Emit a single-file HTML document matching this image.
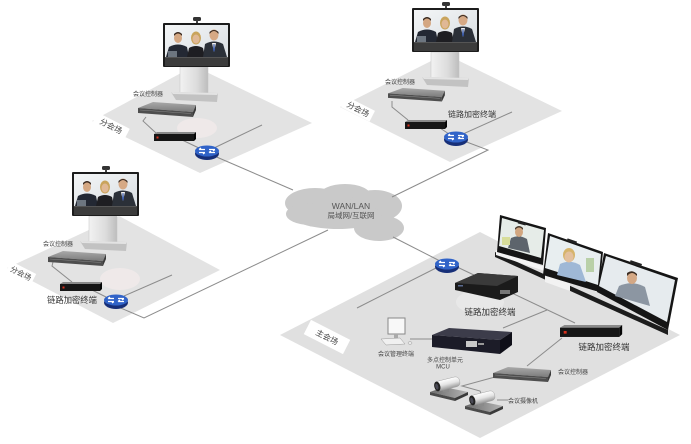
<!DOCTYPE html>
<html><head><meta charset="utf-8"><style>
html,body{margin:0;padding:0;background:#fff;}
svg{display:block;}
text{font-family:"Liberation Sans","Noto Sans CJK SC",sans-serif;}
</style></head><body>
<svg width="691" height="444" viewBox="0 0 691 444" xmlns="http://www.w3.org/2000/svg">
<defs>
  <linearGradient id="col" x1="0" y1="0" x2="1" y2="0">
    <stop offset="0" stop-color="#f2f2f2"/><stop offset="0.6" stop-color="#dcdcdc"/><stop offset="1" stop-color="#bdbdbd"/>
  </linearGradient>
  <linearGradient id="scr" x1="0" y1="0" x2="1" y2="1">
    <stop offset="0" stop-color="#f4f6f7"/><stop offset="1" stop-color="#d9dee2"/>
  </linearGradient>
  <linearGradient id="metal" x1="0" y1="0" x2="0" y2="1">
    <stop offset="0" stop-color="#a9a9a9"/><stop offset="1" stop-color="#7c7c7c"/>
  </linearGradient>
  <linearGradient id="camh" x1="0" y1="0" x2="0" y2="1">
    <stop offset="0" stop-color="#ffffff"/><stop offset="0.5" stop-color="#e4e4e4"/><stop offset="1" stop-color="#9a9a9a"/>
  </linearGradient>
  <linearGradient id="camb" x1="0" y1="0" x2="1" y2="0">
    <stop offset="0" stop-color="#6a6a6a"/><stop offset="1" stop-color="#b5b5b5"/>
  </linearGradient>
  <g id="tv">
    <rect x="30" y="-6" width="8" height="4" rx="1.5" fill="#333"/>
    <rect x="33" y="-2.5" width="2" height="3" fill="#444"/>
    <rect x="0" y="0" width="67" height="44" rx="1" fill="#1c1c1c"/>
    <rect x="2" y="2" width="63" height="32" fill="url(#scr)"/>
    <path d="M3 34 L6 24 Q15 19 24 24 L26 34 Z" fill="#232833"/>
    <ellipse cx="15" cy="15" rx="4" ry="5" fill="#d4a782"/>
    <path d="M11 13 Q15 8 19 13 L19 11 Q15 7 11 11 Z" fill="#3a2a20"/>
    <rect x="5" y="28" width="9" height="6" fill="#6d7680"/>
    <ellipse cx="33" cy="15" rx="5" ry="6.5" fill="#c9a45c"/>
    <path d="M24 34 L26 25 Q33 21 40 25 L42 34 Z" fill="#1e1e22"/>
    <ellipse cx="33" cy="16" rx="3.5" ry="4.5" fill="#e0b895"/>
    <path d="M40 34 L42 21 Q51 16 60 21 L64 34 Z" fill="#2b3038"/>
    <path d="M49 20 L53 20 L51 29 Z" fill="#f2f2f2"/>
    <path d="M50.5 21 L51.5 21 L52 27 L51 29 L50 27 Z" fill="#3a5aa8"/>
    <ellipse cx="51" cy="12" rx="4.5" ry="5.5" fill="#d6a985"/>
    <path d="M46.5 11 Q51 5 55.5 11 L55.5 9 Q51 5 46.5 9 Z" fill="#3b2c22"/>
    <rect x="2" y="34" width="63" height="9" fill="#3c3c3c"/>
    <rect x="2" y="34" width="63" height="1" fill="#555"/>
  </g>
  <g id="stand">
    <rect x="0" y="0" width="28" height="27" fill="url(#col)"/>
    <rect x="0" y="0" width="28" height="27" fill="none" stroke="#c4c4c4" stroke-width="0.5"/>
    <path d="M-9 25 L38 26 L37 35 L-4 33 Z" fill="#c2c2c2"/>
    <path d="M-9 25 L38 26 L37 28 L-7 27 Z" fill="#e3e3e3"/>
  </g>
  <g id="ctrl">
    <path d="M0 6 L15 0 L58 3 L55 10 Z" fill="url(#metal)"/>
    <path d="M0 6 L55 10 L55 15 L0 11 Z" fill="#4e4e4e"/>
    <path d="M55 10 L58 3 L58 8 L55 15 Z" fill="#3a3a3a"/>
    <path d="M2 8 L53 11.5" stroke="#888" stroke-width="0.6"/>
  </g>
  <g id="enc">
    <path d="M0 2 L3 0 L42 0 L40 2 Z" fill="#8a8a8a"/>
    <rect x="0" y="2" width="40" height="7" fill="#161616"/>
    <path d="M40 2 L42 0 L42 7 L40 9 Z" fill="#050505"/>
    <rect x="2.5" y="4.5" width="2" height="2" fill="#d8301c"/>
  </g>
  <g id="router">
    <ellipse cx="0" cy="2.5" rx="12" ry="6.5" fill="#172f78"/>
    <ellipse cx="0" cy="0" rx="12" ry="5.5" fill="#3063c8"/>
    <path d="M-8 -1.5 H-2 M-8 -1.5 L-6 -3 M2 -1.5 H8 M8 -1.5 L6 0 M-8 1.5 H-2 M-2 1.5 L-4 3 M2 1.5 H8 M2 1.5 L4 -0" stroke="#fff" stroke-width="1.3" fill="none"/>
  </g>
  <g id="cam">
    <polygon points="0,12 14,7 38,12 25,18" fill="url(#camb)"/>
    <polygon points="0,12 25,18 25,21 0,15" fill="#4a4a4a"/>
    <polygon points="25,18 38,12 38,15 25,21" fill="#3a3a3a"/>
    <rect x="13" y="6" width="6" height="6" fill="#8a8a8a"/>
    <g transform="rotate(-14 17 4)">
      <rect x="6" y="-1" width="24" height="10" rx="4" fill="url(#camh)" stroke="#9a9a9a" stroke-width="0.4"/>
      <ellipse cx="7" cy="4" rx="3" ry="5" fill="#222"/>
      <ellipse cx="6.5" cy="4" rx="1.5" ry="3" fill="#4a4a55"/>
    </g>
  </g>
</defs>

<!-- planes -->
<polygon points="92,121 194,66 312,123 200,173" fill="#e3e3e3"/>
<polygon points="340,107 445,54 562,111 450,162" fill="#e3e3e3"/>
<polygon points="7,268 119,216 220,270 113,323" fill="#e3e3e3"/>
<polygon points="280,335 480,232 680,335 480,438" fill="#e0e0e0"/>

<!-- glows -->
<ellipse cx="197" cy="128" rx="20" ry="10" fill="#efe9e9"/>
<ellipse cx="120" cy="279" rx="20" ry="11" fill="#efe9e9"/>
<ellipse cx="480" cy="302" rx="24" ry="12" fill="#e8e8e8"/>

<!-- cloud -->
<g fill="#c9c9c9">
  <ellipse cx="315" cy="203" rx="30" ry="15"/>
  <ellipse cx="345" cy="196" rx="26" ry="12"/>
  <ellipse cx="375" cy="206" rx="27" ry="16"/>
  <ellipse cx="338" cy="216" rx="45" ry="13"/>
  <ellipse cx="379" cy="228" rx="25" ry="13"/>
  <ellipse cx="310" cy="214" rx="24" ry="11"/>
</g>
<text x="351" y="209" font-size="8.5" fill="#555" text-anchor="middle">WAN/LAN</text>
<text x="351" y="218" font-size="7.5" fill="#555" text-anchor="middle">局域网/互联网</text>

<!-- lines -->
<g stroke="#8c8c8c" stroke-width="1" fill="none">
  <path d="M146 117 L143 121 L156 133"/>
  <path d="M180 139 L201 149"/>
  <path d="M214 148 L262 125"/>
  <path d="M212 155 L293 190"/>
  <path d="M392 101 L392 107 L408 120"/>
  <path d="M437 126 L449 134"/>
  <path d="M463 134 L512 112"/>
  <path d="M464 141 L488 150 L392 197"/>
  <path d="M53 262 L52 266 L72 282"/>
  <path d="M90 289 L106 297"/>
  <path d="M124 296 L172 275"/>
  <path d="M116 306 L144 318 L328 230"/>
  <path d="M393 237 L440 261"/>
  <path d="M440 266 L357 308"/>
  <path d="M455 266 L575 323"/>
  <path d="M547 310 L503 328"/>
  <path d="M562 338 L527 366"/>
  <path d="M495 377 L462 386 L480 391 L482 396"/>
  <path d="M497 400 L508 400"/>
  <path d="M410 339 L432 339"/>
</g>

<!-- plane 1 -->
<use href="#stand" x="180" y="67"/>
<use href="#tv" x="163" y="23"/>
<text x="148" y="96" font-size="6" fill="#444" text-anchor="middle">会议控制器</text>
<use href="#ctrl" x="138" y="102"/>
<use href="#enc" x="154" y="132"/>
<use href="#router" x="207" y="151"/>
<g transform="rotate(27 111 126)">
  <rect x="93" y="120" width="36" height="12" fill="#fff"/>
  <text x="111" y="129" font-size="8" fill="#444" text-anchor="middle">分会场</text>
</g>

<!-- plane 2 -->
<use href="#stand" x="431" y="52"/>
<use href="#tv" x="412" y="8"/>
<text x="400" y="84" font-size="6" fill="#444" text-anchor="middle">会议控制器</text>
<use href="#ctrl" x="388" y="88" transform="translate(388 88) scale(0.98 0.9) translate(-388 -88)"/>
<use href="#enc" x="405" y="120"/>
<text x="472" y="117" font-size="8" fill="#333" text-anchor="middle">链路加密终端</text>
<use href="#router" x="456" y="137"/>
<g transform="rotate(27 358 109)">
  <rect x="342" y="103" width="32" height="12" fill="#fff"/>
  <text x="358" y="112" font-size="8" fill="#444" text-anchor="middle">分会场</text>
</g>

<!-- plane 3 -->
<use href="#stand" x="89" y="216"/>
<use href="#tv" x="72" y="172"/>
<text x="58" y="246" font-size="6" fill="#444" text-anchor="middle">会议控制器</text>
<use href="#ctrl" x="48" y="251"/>
<use href="#enc" x="60" y="282"/>
<text x="72" y="303" font-size="8.3" fill="#333" text-anchor="middle">链路加密终端</text>
<use href="#router" x="116" y="300"/>
<g transform="rotate(27 21 273)">
  <rect x="7" y="267" width="28" height="11" fill="#fff"/>
  <text x="21" y="276" font-size="7.5" fill="#444" text-anchor="middle">分会场</text>
</g>

<!-- main plane -->
<g transform="rotate(27 327 337)">
  <rect x="305" y="329" width="44" height="16" fill="#fff"/>
  <text x="327" y="340" font-size="8" fill="#444" text-anchor="middle">主会场</text>
</g>

<!-- tri-screen -->
<polygon points="495,252 668,330 668,335 495,257" fill="#1c1c1c"/>
<polygon points="496,250 548,268 548,272 496,255" fill="#f4f4f4"/>
<polygon points="545,270 570,280 570,291 545,282" fill="#f2f2f2"/>
<polygon points="500,215 546,228 543,265 497,252" fill="#151515"/>
<polygon points="502,218 544,230 541,258 499,246" fill="#e6ece8"/>
<polygon points="548,233 603,252 599,292 543,275" fill="#151515"/>
<polygon points="550,236 601,254 598,285 545,268" fill="#e8eef0"/>
<polygon points="604,253 678,278 668,330 597,292" fill="#151515"/>
<polygon points="606,256 675,280 667,322 599,286" fill="#e6ebee"/>
<!-- people in tri-screen -->
<path d="M508 248 L511 238 Q519 234 527 239 L530 253 Z" fill="#5d646c"/>
<ellipse cx="519" cy="232" rx="4" ry="5" fill="#d2a680"/>
<path d="M515 230 Q519 225 523 230 L523 228 Q519 224 515 228 Z" fill="#4a3a2c"/>
<rect x="502" y="237" width="8" height="8" fill="#d7dd9a"/>
<path d="M557 275 L560 264 Q570 259 580 265 L586 282 Z" fill="#9fb8d6"/>
<ellipse cx="569" cy="255" rx="6" ry="7" fill="#d6b46c"/>
<ellipse cx="569" cy="257" rx="4.5" ry="5.5" fill="#e3c09e"/>
<rect x="586" y="258" width="8" height="14" fill="#b9d0a8"/>
<path d="M615 296 L619 286 Q632 280 645 287 L650 306 Z" fill="#8c96a2"/>
<ellipse cx="632" cy="278" rx="5" ry="6" fill="#d4a885"/>
<path d="M627 276 Q632 270 637 276 L637 274 Q632 269 627 273 Z" fill="#3b2c22"/>
<rect x="518" y="222" width="8" height="2.5" fill="#222" transform="rotate(16 522 223)"/>
<rect x="567" y="240" width="10" height="2.5" fill="#222" transform="rotate(19 572 241)"/>
<rect x="630" y="262" width="12" height="3" fill="#222" transform="rotate(19 636 263)"/>

<!-- main equipment -->
<use href="#router" x="447" y="264"/>
<!-- rack encryptor -->
<polygon points="455,283 478,273 518,276 518,292 500,300 455,290" fill="#1b1b1b"/>
<polygon points="455,283 478,273 518,276 497,286" fill="#3a3a3a"/>
<rect x="500" y="290" width="10" height="4" fill="#777"/>
<rect x="458" y="285" width="5" height="1.5" fill="#5a6a90"/>
<text x="490" y="315" font-size="8.5" fill="#333" text-anchor="middle">链路加密终端</text>

<!-- MCU -->
<polygon points="432,335 449,328 512,332 500,340" fill="#3c3c4a"/>
<polygon points="432,335 500,340 500,354 432,347" fill="#1c1c28"/>
<polygon points="500,340 512,332 512,345 500,354" fill="#0f0f18"/>
<rect x="466" y="341" width="11" height="6" fill="#c9c9c9"/>
<rect x="478" y="343" width="6" height="2" fill="#999"/>
<text x="445" y="362" font-size="6" fill="#444" text-anchor="middle">多点控制单元</text>
<text x="443" y="368.5" font-size="6" fill="#444" text-anchor="middle">MCU</text>

<!-- monitor -->
<rect x="388" y="318" width="17" height="16" fill="#f8f8f8" stroke="#888" stroke-width="1"/>
<rect x="394" y="334" width="4" height="4" fill="#aaa"/>
<polygon points="381,339 400,338 405,344 386,345" fill="#f0f0f0" stroke="#999" stroke-width="0.5"/>
<ellipse cx="410" cy="343" rx="2" ry="1.3" fill="#eee" stroke="#999" stroke-width="0.5"/>
<text x="396" y="356" font-size="6" fill="#444" text-anchor="middle">会议管理终端</text>

<!-- second encryptor -->
<use href="#enc" transform="translate(560 325) scale(1.48 1.33)"/>
<text x="604" y="350" font-size="8.5" fill="#333" text-anchor="middle">链路加密终端</text>

<!-- main controller -->
<use href="#ctrl" x="493" y="367"/>
<text x="573" y="374" font-size="6" fill="#444" text-anchor="middle">会议控制器</text>

<!-- cameras -->
<use href="#cam" x="430" y="380"/>
<use href="#cam" x="465" y="394"/>
<text x="523" y="403" font-size="6" fill="#444" text-anchor="middle">会议摄像机</text>
</svg>
</body></html>
